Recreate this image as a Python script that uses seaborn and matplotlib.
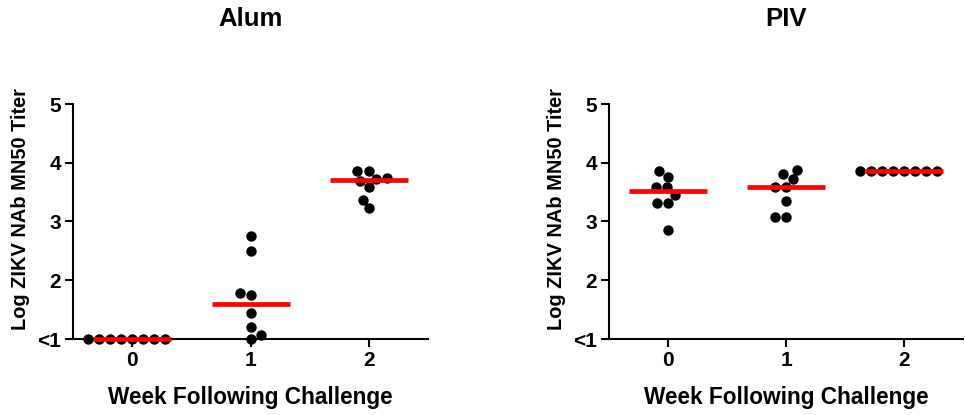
import numpy as np
import pandas as pd
import matplotlib
matplotlib.use("Agg")
import matplotlib.pyplot as plt
import seaborn as sns

# ---- data ----
weeks = ["0", "1", "2"]
ytick_vals = [1, 2, 3, 4, 5]
ytick_labels = ["<1", "2", "3", "4", "5"]

alum_w0 = [1.0, 1.0, 1.0, 1.0, 1.0, 1.0, 1.0, 1.0]
alum_w1 = [2.76, 2.50, 1.75, 1.78, 1.45, 1.20, 1.00, 1.07]
alum_w2 = [3.735, 3.865, 3.695, 3.865, 3.59, 3.37, 3.225, 3.72]

piv_w0 = [3.76, 3.86, 3.58, 3.59, 3.45, 3.31, 3.31, 2.86]
piv_w1 = [3.88, 3.72, 3.80, 3.58, 3.58, 3.35, 3.08, 3.08]
piv_w2 = [3.86, 3.86, 3.86, 3.86, 3.86, 3.86, 3.86, 3.86]

panels = [("Alum", [alum_w0, alum_w1, alum_w2]),
          ("PIV", [piv_w0, piv_w1, piv_w2])]

sns.set_style("ticks")
plt.rcParams["font.family"] = ["Liberation Sans", "DejaVu Sans"]
plt.rcParams["font.weight"] = "bold"
for k in ["text.color", "axes.labelcolor", "xtick.color", "ytick.color",
          "axes.edgecolor"]:
    plt.rcParams[k] = "black"

fig = plt.figure(figsize=(9.65, 4.15), dpi=100)
H = 415.0
W = 965.0
axes_pos = [(73, 428), (609, 963)]
top_px, bot_px = 104, 339

for (title, series), (l, r) in zip(panels, axes_pos):
    ax = fig.add_axes([l / W, (H - bot_px) / H, (r - l) / W, (bot_px - top_px) / H])
    df = pd.DataFrame({
        "week": np.repeat(weeks, [len(s) for s in series]),
        "titer": np.concatenate(series),
    })
    sns.swarmplot(data=df, x="week", y="titer", order=weeks, color="black",
                  size=7.5, ax=ax, zorder=3)
    for c in ax.collections:
        c.set_clip_on(False)
    sns.pointplot(data=df, x="week", y="titer", order=weeks, estimator="median",
                  errorbar=None, color="red", marker="_", linestyle="none",
                  markersize=56, markeredgewidth=3.4, ax=ax)
    for ln in ax.lines:
        ln.set_zorder(4)
        ln.set_clip_on(False)
    ax.set_xlim(-0.5, 2.5)
    ax.set_ylim(1, 5)
    ax.set_yticks(ytick_vals)
    ax.set_yticklabels(ytick_labels)
    sns.despine(ax=ax)
    for sp in ["left", "bottom"]:
        ax.spines[sp].set_linewidth(1.5)
        ax.spines[sp].set_color("black")
    ax.tick_params(axis="both", width=1.5, length=6, color="black",
                   labelcolor="black", labelsize=15, pad=2.5)
    for lab in ax.get_xticklabels() + ax.get_yticklabels():
        lab.set_fontweight("bold")
    ax.set_xlabel("Week Following Challenge", fontsize=16.3, fontweight="bold",
                  color="black")
    ax.set_ylabel("Log ZIKV NAb MN50 Titer", fontsize=14.4, fontweight="bold",
                  color="black")
    ax.xaxis.set_label_coords(0.5, -0.2)
    ax.yaxis.set_label_coords(-0.121, 0.555)
    ax.set_title(title, fontsize=18.5, fontweight="bold", y=1.332, pad=0,
                 color="black")

fig.savefig("out.png", dpi=100)
